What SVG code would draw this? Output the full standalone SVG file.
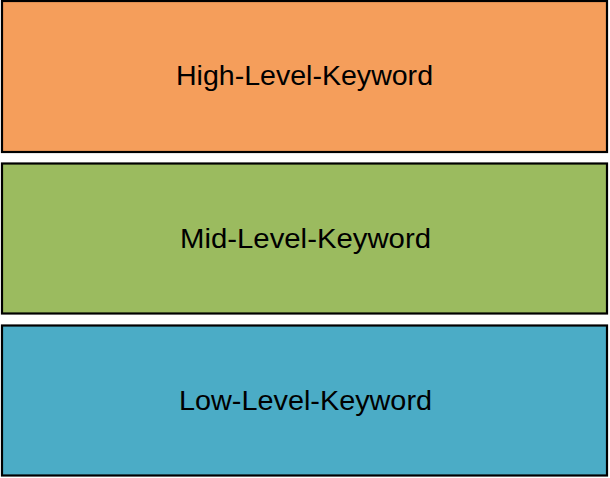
<svg xmlns="http://www.w3.org/2000/svg" width="610" height="478" viewBox="0 0 610 478">
<style>
.box{stroke:#000;stroke-width:2.2}
.lbl{font-family:"Liberation Sans",Arial,sans-serif;font-size:28px;fill:#000;text-anchor:middle}
</style>
<rect width="610" height="478" fill="#fff"/>
<g id="high">
<rect class="box" x="2" y="1" width="605" height="151" fill="#F59E5B"/>
<text class="lbl" x="304.5" y="85" textLength="257" lengthAdjust="spacingAndGlyphs">High-Level-Keyword</text>
</g>
<g id="mid">
<rect class="box" x="2" y="163.5" width="605" height="150" fill="#9BBB5F"/>
<text class="lbl" x="305.5" y="248" textLength="251" lengthAdjust="spacingAndGlyphs">Mid-Level-Keyword</text>
</g>
<g id="low">
<rect class="box" x="2" y="325.5" width="605" height="150" fill="#4BACC6"/>
<text class="lbl" x="305.5" y="410" textLength="253" lengthAdjust="spacingAndGlyphs">Low-Level-Keyword</text>
</g>
<g id="connectors"/>
</svg>
